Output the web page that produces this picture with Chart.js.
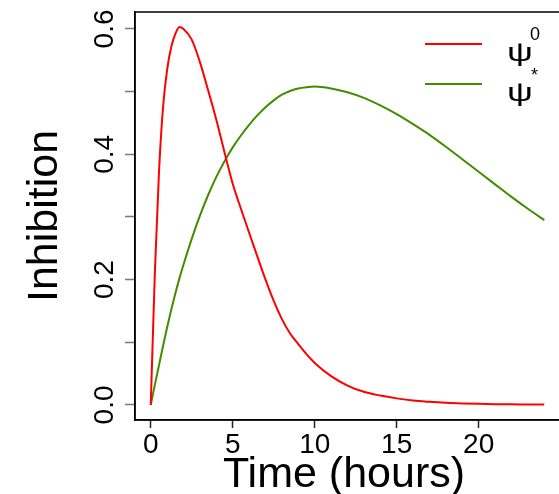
<!DOCTYPE html>
<html>
<head>
<meta charset="utf-8">
<script src="https://cdn.jsdelivr.net/npm/chart.js@4.4.1/dist/chart.umd.min.js"></script>
<style>
  html, body { margin: 0; padding: 0; background: #fff; overflow: hidden; }
  #wrap { width: 570px; height: 494px; }
</style>
</head>
<body>
<div id="wrap"><canvas id="inhibitionChart" width="570" height="494"></canvas></div>
<script>
// time after dose (hours)
const hours = [0, 0.25, 0.5, 0.75, 1, 1.25, 1.5, 1.75, 2, 2.5, 3, 3.5, 4, 4.5, 5, 5.5, 6, 6.5, 7, 7.5,
  8, 8.5, 9, 9.5, 10, 11, 12, 13, 14, 15, 16, 17, 18, 19, 20, 21, 22, 23, 24];

// psi*^0 : fast rise, peak near 2 h, washes out by ~15 h
const psiStar0 = [0, 0.21, 0.37, 0.475, 0.535, 0.571, 0.592, 0.603, 0.6, 0.583, 0.547, 0.502, 0.455, 0.403, 0.353,
  0.313, 0.275, 0.237, 0.2, 0.166, 0.137, 0.114, 0.097, 0.081, 0.067, 0.046, 0.031, 0.021, 0.015, 0.0105,
  0.007, 0.005, 0.0035, 0.0025, 0.0018, 0.0013, 0.001, 0.0008, 0.0006];

// psi : slower rise, peak near 10 h
const psi = [0, 0.032, 0.063, 0.094, 0.124, 0.152, 0.178, 0.202, 0.224, 0.265, 0.302, 0.335, 0.364, 0.389, 0.411,
  0.43, 0.447, 0.462, 0.475, 0.486, 0.495, 0.501, 0.505, 0.507, 0.508, 0.505, 0.499, 0.49, 0.478, 0.464,
  0.448, 0.431, 0.412, 0.392, 0.372, 0.352, 0.332, 0.313, 0.295];

const xTicks = [0, 5, 10, 15, 20];
const yTicks = [0, 0.1, 0.2, 0.3, 0.4, 0.5, 0.6];
const yLabelTicks = [0, 0.2, 0.4, 0.6];

const RED = "#ff0000";
const GREEN = "#458b00";
const FONT = "'Liberation Sans', Arial, sans-serif";

function points(values) {
  return hours.map((h, i) => ({ x: h, y: values[i] }));
}

// wide psi glyph, like the symbol font used for plotmath
function drawPsi(ctx, x, y) {
  ctx.save();
  ctx.translate(x, y);
  ctx.scale(1.45, 1);
  ctx.fillText("\u03C8", 0, 0);
  ctx.restore();
}

// box, tick labels, axis titles and legend in R base-graphics style
const rStyle = {
  id: "rStyle",
  afterDraw(chart) {
    const ctx = chart.ctx;
    const area = chart.chartArea;
    const xs = chart.scales.x;
    const ys = chart.scales.y;
    ctx.save();

    ctx.strokeStyle = "#000";
    ctx.lineWidth = 1.5;
    ctx.strokeRect(area.left, area.top, area.right - area.left, area.bottom - area.top);

    ctx.fillStyle = "#000";
    ctx.font = "28px " + FONT;
    ctx.textAlign = "center";
    ctx.textBaseline = "alphabetic";
    xTicks.forEach(v => ctx.fillText(String(v), xs.getPixelForValue(v), 453));

    yLabelTicks.forEach(v => {
      ctx.save();
      ctx.translate(113, ys.getPixelForValue(v));
      ctx.rotate(-Math.PI / 2);
      ctx.fillText(v.toFixed(1), 0, 0);
      ctx.restore();
    });

    ctx.font = "43px " + FONT;
    ctx.fillText("Time (hours)", 344, 487);
    ctx.save();
    ctx.translate(57, (area.top + area.bottom) / 2);
    ctx.rotate(-Math.PI / 2);
    ctx.fillText("Inhibition", 0, 0);
    ctx.restore();

    // legend
    ctx.lineWidth = 2;
    [[RED, 44], [GREEN, 84]].forEach(([c, yy]) => {
      ctx.strokeStyle = c;
      ctx.beginPath();
      ctx.moveTo(425, yy);
      ctx.lineTo(482, yy);
      ctx.stroke();
    });
    ctx.textAlign = "left";
    ctx.font = "25px " + FONT;
    drawPsi(ctx, 507, 61);
    drawPsi(ctx, 507, 101);
    ctx.font = "18px " + FONT;
    ctx.fillText("0", 530, 40);
    ctx.fillText("*", 531, 81);

    ctx.restore();
  }
};

const ctx = document.getElementById("inhibitionChart").getContext("2d");
new Chart(ctx, {
  type: "line",
  data: {
    datasets: [
      {
        label: "psi*0",
        data: points(psiStar0),
        borderColor: RED,
        borderWidth: 2,
        pointRadius: 0,
        cubicInterpolationMode: "monotone",
        fill: false
      },
      {
        label: "psi",
        data: points(psi),
        borderColor: GREEN,
        borderWidth: 2,
        pointRadius: 0,
        cubicInterpolationMode: "monotone",
        fill: false
      }
    ]
  },
  options: {
    responsive: false,
    animation: false,
    devicePixelRatio: 1,
    layout: { padding: { left: 125, top: 12, right: 10, bottom: 66 } },
    plugins: { legend: { display: false }, tooltip: { enabled: false } },
    scales: {
      x: {
        type: "linear",
        min: -0.96,
        max: 24.96,
        afterBuildTicks: s => { s.ticks = xTicks.map(v => ({ value: v })); },
        ticks: { display: false },
        grid: { drawOnChartArea: false, drawTicks: true, tickLength: 8, tickColor: "#222", tickWidth: 1.5 },
        border: { display: true, color: "#000", width: 1.5 }
      },
      y: {
        type: "linear",
        min: -0.024,
        max: 0.627,
        afterBuildTicks: s => { s.ticks = yTicks.map(v => ({ value: v })); },
        ticks: { display: false },
        grid: { drawOnChartArea: false, drawTicks: true, tickLength: 10, tickColor: "#777", tickWidth: 1.5 },
        border: { display: true, color: "#000", width: 1.5 }
      }
    }
  },
  plugins: [rStyle]
});
</script>
</body>
</html>
